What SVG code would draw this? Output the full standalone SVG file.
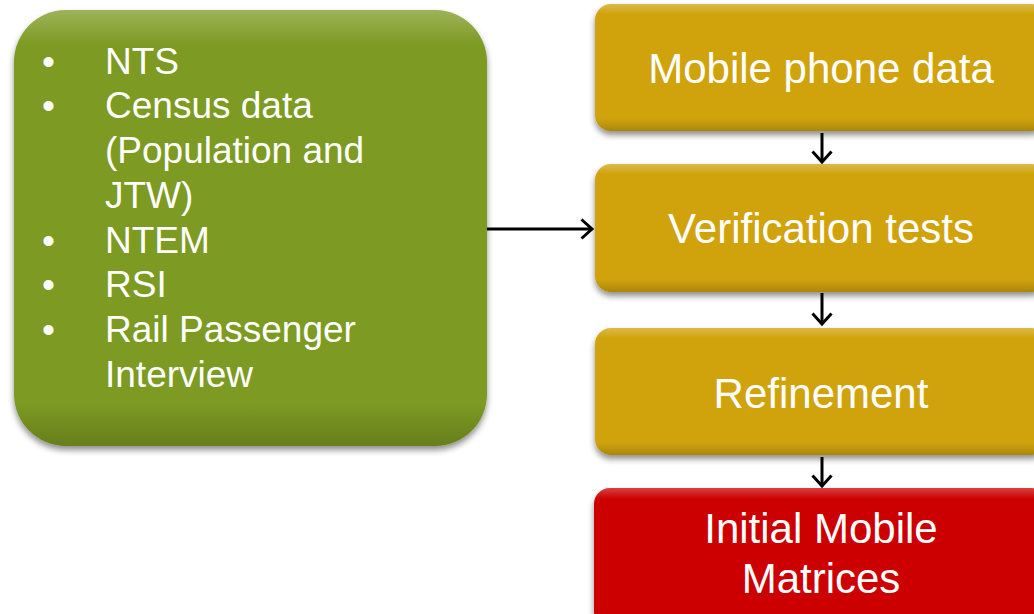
<svg xmlns="http://www.w3.org/2000/svg" width="1034" height="614" viewBox="0 0 1034 614">
  <defs>
    <filter id="sh" x="-10%" y="-10%" width="120%" height="130%">
      <feGaussianBlur in="SourceAlpha" stdDeviation="3"/>
      <feOffset dx="0" dy="4" result="b"/>
      <feComponentTransfer><feFuncA type="linear" slope="0.45"/></feComponentTransfer>
      <feMerge><feMergeNode/><feMergeNode in="SourceGraphic"/></feMerge>
    </filter>
    <linearGradient id="gl" x1="0" y1="0" x2="0" y2="1">
      <stop offset="0" stop-color="#ffffff" stop-opacity="0.25"/>
      <stop offset="0.08" stop-color="#ffffff" stop-opacity="0"/>
      <stop offset="0.9" stop-color="#000000" stop-opacity="0"/>
      <stop offset="1" stop-color="#000000" stop-opacity="0.18"/>
    </linearGradient>
    <marker id="ah" markerWidth="16" markerHeight="24" refX="12" refY="11" orient="auto" markerUnits="userSpaceOnUse">
      <path d="M1.5,1.5 L12,11 L1.5,20.5" fill="none" stroke="#000" stroke-width="3"/>
    </marker>
    <style>
      .t { font-family: "Liberation Sans", Arial, sans-serif; fill: #ffffff; }
      .big { font-size: 42px; text-anchor: middle; }
      .lst { font-size: 37px; }
      .gold { fill: #d0a30a; }
      .conn { stroke: #000; stroke-width: 3; fill: none; marker-end: url(#ah); }
    </style>
  </defs>

  <g id="sources">
    <rect x="14" y="10" width="473" height="436" rx="52" fill="#7d9a21" filter="url(#sh)"/>
    <rect x="14" y="10" width="473" height="436" rx="52" fill="url(#gl)"/>
    <g class="t lst">
      <text x="42" y="74">•</text><text x="105" y="74">NTS</text>
      <text x="42" y="118">•</text><text x="105" y="118">Census data</text>
      <text x="105" y="163">(Population and</text>
      <text x="105" y="208">JTW)</text>
      <text x="42" y="253">•</text><text x="105" y="253">NTEM</text>
      <text x="42" y="297">•</text><text x="105" y="297">RSI</text>
      <text x="42" y="342">•</text><text x="105" y="342">Rail Passenger</text>
      <text x="105" y="387">Interview</text>
    </g>
  </g>

  <g id="mobile">
    <rect x="595" y="4" width="452" height="127" rx="16" class="gold" filter="url(#sh)"/>
    <rect x="595" y="4" width="452" height="127" rx="16" fill="url(#gl)"/>
    <text x="821" y="83" class="t big">Mobile phone data</text>
  </g>

  <g id="verification">
    <rect x="595" y="164" width="452" height="128" rx="16" class="gold" filter="url(#sh)"/>
    <rect x="595" y="164" width="452" height="128" rx="16" fill="url(#gl)"/>
    <text x="821" y="243" class="t big">Verification tests</text>
  </g>

  <g id="refinement">
    <rect x="595" y="328" width="452" height="127" rx="16" class="gold" filter="url(#sh)"/>
    <rect x="595" y="328" width="452" height="127" rx="16" fill="url(#gl)"/>
    <text x="821" y="408" class="t big">Refinement</text>
  </g>

  <g id="matrices">
    <rect x="594" y="488" width="453" height="140" rx="16" fill="#cc0606" filter="url(#sh)"/>
    <rect x="594" y="488" width="453" height="140" rx="16" fill="url(#gl)"/>
    <text x="821" y="543" class="t big">Initial Mobile</text>
    <text x="821" y="593" class="t big">Matrices</text>
  </g>

  <g id="connectors">
    <line x1="487" y1="229" x2="592" y2="229" class="conn"/>
    <line x1="822" y1="133" x2="822" y2="162" class="conn"/>
    <line x1="822" y1="293" x2="822" y2="324" class="conn"/>
    <line x1="822" y1="457" x2="822" y2="486" class="conn"/>
  </g>
</svg>
